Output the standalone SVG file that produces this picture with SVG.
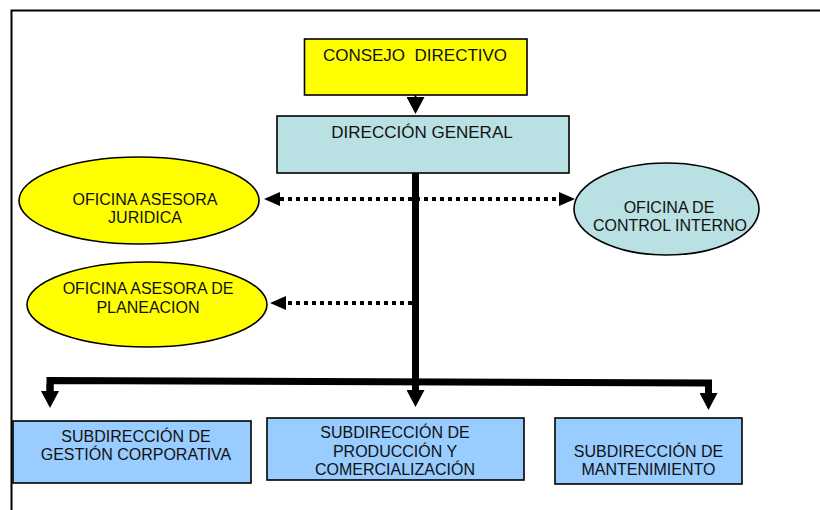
<svg xmlns="http://www.w3.org/2000/svg" width="820" height="510" viewBox="0 0 820 510">
<style>
  text { font-family: "Liberation Sans", Arial, sans-serif; font-size: 16px; fill: #111; text-anchor: middle; }
  .big { font-size: 17px; }
  .box { stroke: #000; stroke-width: 1.6; }
  .yellow { fill: #FFFF00; }
  .cyan { fill: #B9E0E3; }
  .blue { fill: #99CCFF; }
  .thick { fill: none; stroke: #000; stroke-width: 7; }
  .dotted { fill: none; stroke: #000; stroke-width: 4; stroke-dasharray: 4 4; }
  .frame { fill: none; stroke: #000; stroke-width: 2; }
</style>
<defs>
  <marker id="bigArrow" markerUnits="userSpaceOnUse" viewBox="0 0 17 18" refX="0" refY="9" markerWidth="17" markerHeight="18" orient="auto">
    <path d="M0,0 L17,9 L0,18 Z" fill="#000"/>
  </marker>
  <marker id="dotArrow" markerUnits="userSpaceOnUse" viewBox="0 0 16 14" refX="0" refY="7" markerWidth="16" markerHeight="14" orient="auto-start-reverse">
    <path d="M0,0 L16,7 L0,14 Z" fill="#000"/>
  </marker>
</defs>
<rect width="820" height="510" fill="#fff"/>
<path class="frame" d="M11.5,510 L11.5,10.5 L820,10.5"/>

<g id="connectors">
  <path d="M415.5,95 L415.5,97" stroke="#000" stroke-width="2" marker-end="url(#bigArrow)"/>
  <path class="thick" d="M415.5,173 L415.5,390" marker-end="url(#bigArrow)"/>
  <path class="thick" d="M50,391 L50,380.5 L708.5,383 L708.5,393" marker-end="url(#bigArrow)"/>
  <path class="thick" d="M50,384 L50,391" marker-end="url(#bigArrow)"/>
  <path class="dotted" d="M280,199 L559,199" marker-start="url(#dotArrow)" marker-end="url(#dotArrow)"/>
  <path class="dotted" d="M412,303 L286,303" marker-end="url(#dotArrow)"/>
</g>

<g id="consejo">
  <rect class="box yellow" x="304.5" y="39" width="222.5" height="56"/>
  <text class="big" x="415" y="61" style="white-space:pre">CONSEJO  DIRECTIVO</text>
</g>

<g id="direccion-general">
  <rect class="box cyan" x="277" y="116" width="292" height="57"/>
  <text class="big" x="422" y="138">DIRECCIÓN GENERAL</text>
</g>

<g id="asesora-juridica">
  <ellipse class="box yellow" cx="139" cy="200.5" rx="120" ry="43.5"/>
  <text x="145" y="205">OFICINA ASESORA</text>
  <text x="145" y="223">JURIDICA</text>
</g>

<g id="asesora-planeacion">
  <ellipse class="box yellow" cx="147" cy="304.5" rx="120" ry="42.5"/>
  <text x="148" y="294">OFICINA ASESORA DE</text>
  <text x="148" y="313">PLANEACION</text>
</g>

<g id="control-interno">
  <ellipse class="box cyan" cx="666.5" cy="209" rx="92.5" ry="46"/>
  <text x="669" y="213">OFICINA DE</text>
  <text x="670" y="231">CONTROL INTERNO</text>
</g>

<g id="sub-gestion">
  <rect class="box blue" x="13" y="421" width="238" height="62"/>
  <text x="136" y="442">SUBDIRECCIÓN DE</text>
  <text x="136" y="460">GESTIÓN CORPORATIVA</text>
</g>

<g id="sub-produccion">
  <rect class="box blue" x="267" y="418" width="257" height="62"/>
  <text x="395" y="438">SUBDIRECCIÓN DE</text>
  <text x="395" y="457">PRODUCCIÓN Y</text>
  <text x="395" y="475">COMERCIALIZACIÓN</text>
</g>

<g id="sub-mantenimiento">
  <rect class="box blue" x="555" y="418" width="187" height="66"/>
  <text x="648.5" y="457">SUBDIRECCIÓN DE</text>
  <text x="648.5" y="475">MANTENIMIENTO</text>
</g>
</svg>
